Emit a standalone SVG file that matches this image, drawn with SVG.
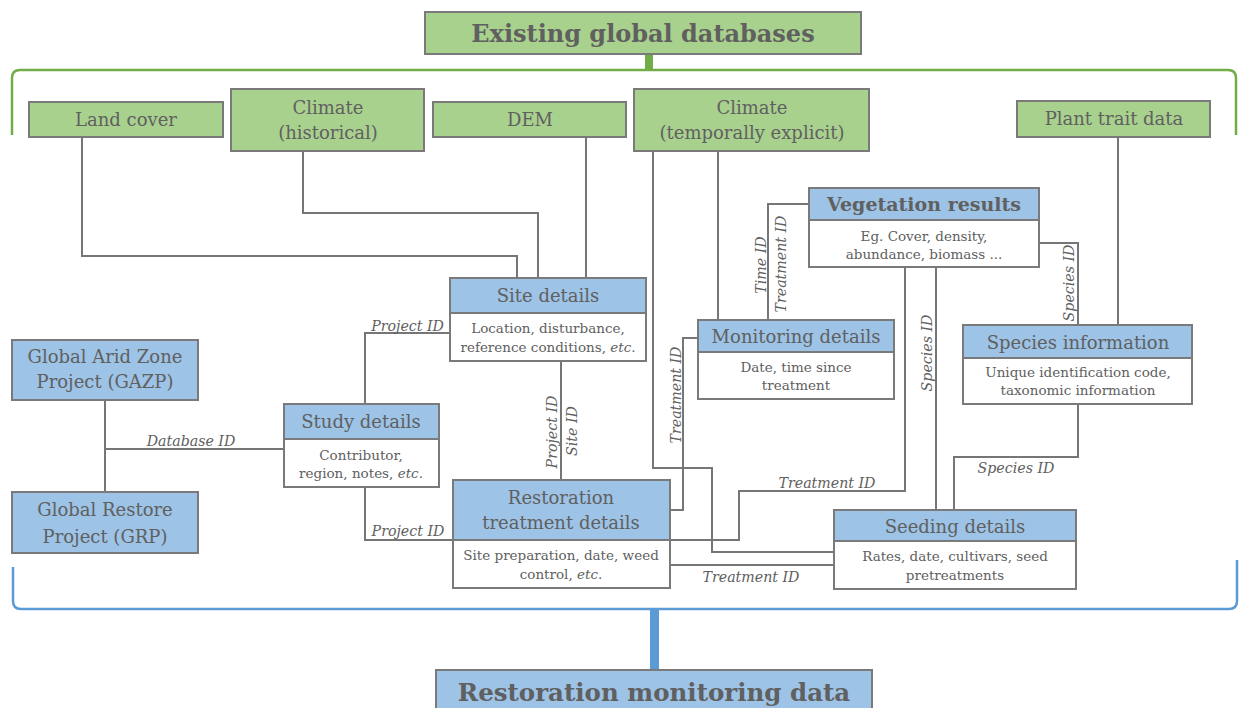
<svg xmlns="http://www.w3.org/2000/svg" width="1239" height="708" viewBox="0 0 1239 708">
<style>
text{font-family:"DejaVu Serif","Liberation Serif",serif;fill:#606060}
.t{font-size:18px;text-anchor:middle}
.b{font-size:13.5px;text-anchor:middle}
.bold{font-weight:bold}
.lbl{font-size:14.2px;font-style:italic}
.green{fill:#a9d18e;stroke:#7a7a7a;stroke-width:2}
.blue{fill:#9dc3e6;stroke:#7a7a7a;stroke-width:2}
.white{fill:#ffffff;stroke:#7a7a7a;stroke-width:2}
.ln{fill:none;stroke:#767676;stroke-width:2}
</style>
<rect width="1239" height="708" fill="#ffffff"/>

<!-- brackets -->
<g id="brackets">
<path d="M12,135 V78 Q12,70 20,70 H1228 Q1236,70 1236,78 V135" fill="none" stroke="#70ad47" stroke-width="2.5"/>
<rect x="645" y="54" width="8" height="16" fill="#70ad47"/>
<path d="M13,567 V601 Q13,609 21,609 H1229 Q1237,609 1237,601 V560" fill="none" stroke="#5b9bd5" stroke-width="2.5"/>
<rect x="650" y="609" width="9" height="61" fill="#5b9bd5"/>
</g>

<!-- connectors -->
<g id="connectors">
<path class="ln" d="M82,137 V256 H517 V278"/>
<path class="ln" d="M303,151 V213 H538 V278"/>
<path class="ln" d="M586,137 V278"/>
<path class="ln" d="M653,151 V468 H712 V552 H834"/>
<path class="ln" d="M718,151 V320"/>
<path class="ln" d="M1118,137 V325"/>
<path class="ln" d="M809,204 H768 V320"/>
<path class="ln" d="M698,338 H683 V510 H670"/>
<path class="ln" d="M1039,243 H1078 V325"/>
<path class="ln" d="M905,267 V491 H739 V540 H670"/>
<path class="ln" d="M936,267 V510"/>
<path class="ln" d="M1078,404 V457 H954 V510"/>
<path class="ln" d="M670,565 H834"/>
<path class="ln" d="M561,361 V480"/>
<path class="ln" d="M450,333 H365 V404"/>
<path class="ln" d="M365,487 V540 H453"/>
<path class="ln" d="M105,400 V492"/>
<path class="ln" d="M105,449 H284"/>
<g class="lbl">
<text x="444" y="331" text-anchor="end">Project ID</text>
<text x="191" y="446" text-anchor="middle">Database ID</text>
<text x="408" y="536" text-anchor="middle">Project ID</text>
<text x="827" y="488" text-anchor="middle">Treatment ID</text>
<text x="751" y="582" text-anchor="middle">Treatment ID</text>
<text x="1016" y="473" text-anchor="middle">Species ID</text>
<text transform="translate(557,432) rotate(-90)" text-anchor="middle">Project ID</text>
<text transform="translate(577,431) rotate(-90)" text-anchor="middle">Site ID</text>
<text transform="translate(681,395) rotate(-90)" text-anchor="middle">Treatment ID</text>
<text transform="translate(766,265) rotate(-90)" text-anchor="middle">Time ID</text>
<text transform="translate(786,264) rotate(-90)" text-anchor="middle">Treatment ID</text>
<text transform="translate(932,353) rotate(-90)" text-anchor="middle">Species ID</text>
<text transform="translate(1074,283) rotate(-90)" text-anchor="middle">Species ID</text>
</g>
</g>

<!-- green nodes -->
<g id="existing">
<rect class="green" x="425" y="12" width="436" height="42"/>
<text class="t bold" x="643" y="42" style="font-size:24px">Existing global databases</text>
</g>
<g id="landcover">
<rect class="green" x="29" y="102" width="194" height="35"/>
<text class="t" x="126" y="126">Land cover</text>
</g>
<g id="climate-hist">
<rect class="green" x="231" y="89" width="193" height="62"/>
<text class="t" x="328" y="114">Climate</text>
<text class="t" x="328" y="139">(historical)</text>
</g>
<g id="dem">
<rect class="green" x="433" y="102" width="193" height="35"/>
<text class="t" x="530" y="126">DEM</text>
</g>
<g id="climate-temp">
<rect class="green" x="634" y="89" width="235" height="62"/>
<text class="t" x="752" y="114">Climate</text>
<text class="t" x="752" y="139">(temporally explicit)</text>
</g>
<g id="planttrait">
<rect class="green" x="1017" y="101" width="193" height="36"/>
<text class="t" x="1114" y="125">Plant trait data</text>
</g>

<!-- blue nodes -->
<g id="site">
<rect class="blue" x="450" y="278" width="196" height="35"/>
<rect class="white" x="450" y="313" width="196" height="48"/>
<text class="t" x="548" y="302">Site details</text>
<text class="b" x="548" y="333">Location, disturbance,</text>
<text class="b" x="548" y="352">reference conditions, <tspan font-style="italic">etc</tspan>.</text>
</g>
<g id="gazp">
<rect class="blue" x="12" y="340" width="186" height="60"/>
<text class="t" x="105" y="363">Global Arid Zone</text>
<text class="t" x="105" y="388">Project (GAZP)</text>
</g>
<g id="study">
<rect class="blue" x="284" y="404" width="155" height="35"/>
<rect class="white" x="284" y="439" width="155" height="48"/>
<text class="t" x="361" y="428">Study details</text>
<text class="b" x="361" y="460">Contributor,</text>
<text class="b" x="361" y="478">region, notes, <tspan font-style="italic">etc</tspan>.</text>
</g>
<g id="grp">
<rect class="blue" x="12" y="492" width="186" height="61"/>
<text class="t" x="105" y="516">Global Restore</text>
<text class="t" x="105" y="543">Project (GRP)</text>
</g>
<g id="restoration">
<rect class="blue" x="453" y="480" width="217" height="60"/>
<rect class="white" x="453" y="540" width="217" height="48"/>
<text class="t" x="561" y="504">Restoration</text>
<text class="t" x="561" y="529">treatment details</text>
<text class="b" x="561" y="560">Site preparation, date, weed</text>
<text class="b" x="561" y="579">control, <tspan font-style="italic">etc</tspan>.</text>
</g>
<g id="monitoring">
<rect class="blue" x="698" y="320" width="196" height="32"/>
<rect class="white" x="698" y="352" width="196" height="47"/>
<text class="t" x="796" y="343">Monitoring details</text>
<text class="b" x="796" y="372">Date, time since</text>
<text class="b" x="796" y="390">treatment</text>
</g>
<g id="vegetation">
<rect class="blue" x="809" y="188" width="230" height="32" stroke-width="3"/>
<rect class="white" x="809" y="220" width="230" height="47" stroke-width="3"/>
<text class="t bold" x="924" y="211" style="font-size:19px">Vegetation results</text>
<text class="b" x="924" y="241">Eg. Cover, density,</text>
<text class="b" x="924" y="259">abundance, biomass ...</text>
</g>
<g id="species">
<rect class="blue" x="963" y="325" width="229" height="33"/>
<rect class="white" x="963" y="358" width="229" height="46"/>
<text class="t" x="1078" y="349">Species information</text>
<text class="b" x="1078" y="377">Unique identification code,</text>
<text class="b" x="1078" y="395">taxonomic information</text>
</g>
<g id="seeding">
<rect class="blue" x="834" y="510" width="242" height="31"/>
<rect class="white" x="834" y="541" width="242" height="48"/>
<text class="t" x="955" y="533">Seeding details</text>
<text class="b" x="955" y="561">Rates, date, cultivars, seed</text>
<text class="b" x="955" y="580">pretreatments</text>
</g>
<g id="monitoring-data">
<rect class="blue" x="436" y="670" width="436" height="45"/>
<text class="t bold" x="654" y="701" style="font-size:24.5px">Restoration monitoring data</text>
</g>
</svg>
